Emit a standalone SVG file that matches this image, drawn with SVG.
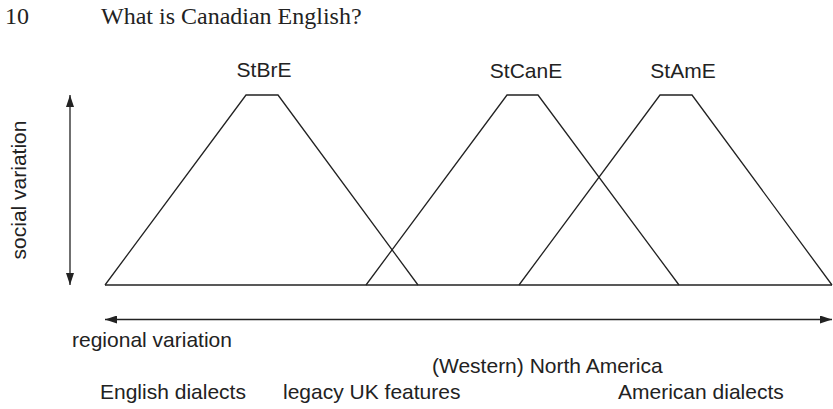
<svg xmlns="http://www.w3.org/2000/svg" width="833" height="409" viewBox="0 0 833 409">
<style>
.ln{fill:none;stroke:#222;stroke-width:1.3;stroke-linejoin:miter}
.t{font-family:"Liberation Sans",Arial,sans-serif;font-size:21px;fill:#222}
.s{font-family:"Liberation Serif","Times New Roman",serif;font-size:24px;fill:#222}
</style>
<defs>
<marker id="ah" viewBox="0 0 12 8" refX="12" refY="4" markerWidth="12" markerHeight="8" markerUnits="userSpaceOnUse" orient="auto-start-reverse">
<path d="M0,0 L12,4 L0,8 Z" fill="#222"/>
</marker>
</defs>
<text class="s" x="5" y="24">10</text>
<text class="s" x="101" y="24">What is Canadian English?</text>
<g id="connectors">
<line class="ln" x1="70" y1="95" x2="70" y2="285" marker-start="url(#ah)" marker-end="url(#ah)"/>
<line class="ln" x1="105" y1="319.5" x2="832" y2="319.5" marker-start="url(#ah)" marker-end="url(#ah)"/>
<line class="ln" x1="105" y1="285" x2="832" y2="285"/>
</g>
<g id="StBrE">
<polyline class="ln" points="105,285 246,95 278,95 418,285"/>
<text class="t" x="264" y="77" text-anchor="middle">StBrE</text>
</g>
<g id="StCanE">
<polyline class="ln" points="366,285 507,95 538,95 679,285"/>
<text class="t" x="526" y="78" text-anchor="middle">StCanE</text>
</g>
<g id="StAmE">
<polyline class="ln" points="519,285 660,95 692,95 832,285"/>
<text class="t" x="683" y="78" text-anchor="middle">StAmE</text>
</g>
<g id="social-variation">
<text class="t" transform="translate(26,190) rotate(-90)" text-anchor="middle">social variation</text>
</g>
<g id="regional-variation">
<text class="t" x="72" y="347">regional variation</text>
</g>
<g id="labels">
<text class="t" x="432" y="373">(Western) North America</text>
<text class="t" x="100" y="399">English dialects</text>
<text class="t" x="283" y="399">legacy UK features</text>
<text class="t" x="618" y="399">American dialects</text>
</g>
</svg>
